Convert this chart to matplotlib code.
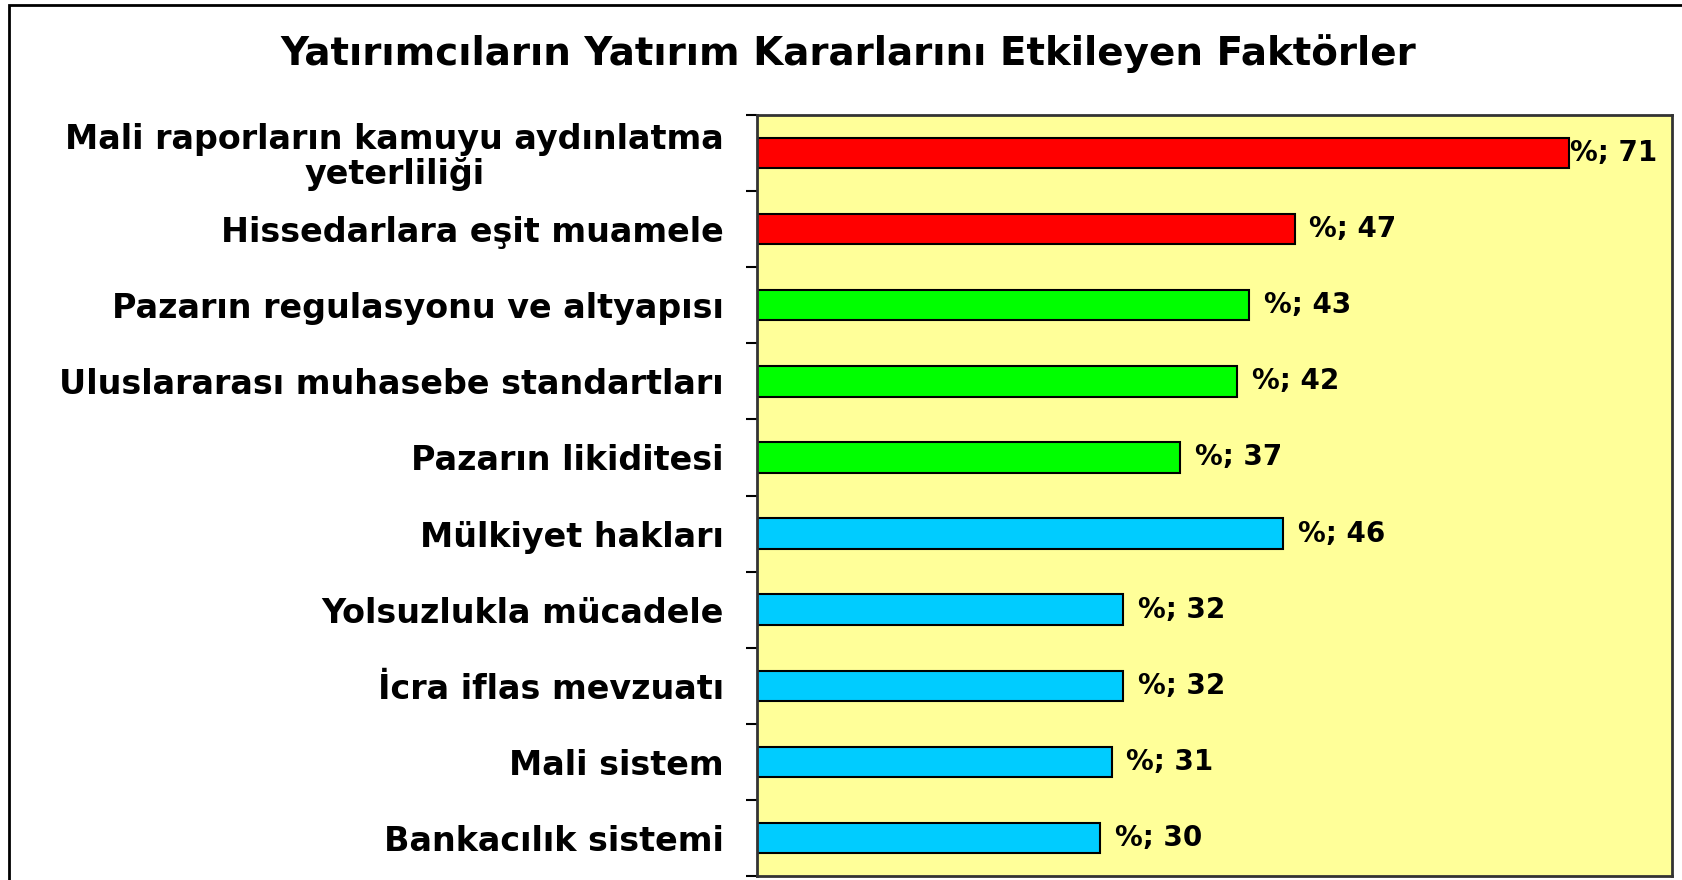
import matplotlib.pyplot as plt
from matplotlib.patches import Rectangle

categories = [
    "Mali raporların kamuyu aydınlatma\nyeterliliği",
    "Hissedarlara eşit muamele",
    "Pazarın regulasyonu ve altyapısı",
    "Uluslararası muhasebe standartları",
    "Pazarın likiditesi",
    "Mülkiyet hakları",
    "Yolsuzlukla mücadele",
    "İcra iflas mevzuatı",
    "Mali sistem",
    "Bankacılık sistemi",
]
values = [71, 47, 43, 42, 37, 46, 32, 32, 31, 30]
colors = ["#FF0000"] * 2 + ["#00FF00"] * 3 + ["#00CCFF"] * 5
xmax = 80

fig = plt.figure(figsize=(16.83, 8.8), dpi=100)
fig.patches.append(Rectangle((9 / 1683, -0.1), 1.2, 0.1 + 875 / 880,
                             transform=fig.transFigure, fill=False,
                             edgecolor="black", linewidth=2))
ax = fig.add_axes([757 / 1683, 4 / 880, 915 / 1683, 761 / 880])
ax.set_facecolor("#FFFF99")

y = list(range(len(categories)))
ax.barh(y, values, height=0.4, color=colors, edgecolor="black", linewidth=1.5)
ax.set_xlim(0, xmax)
ax.set_ylim(len(categories) - 0.5, -0.5)

ax.set_yticks([i - 0.5 for i in range(len(categories) + 1)])
ax.set_yticklabels([])
ax.set_yticks(y, minor=True)
ax.set_yticklabels(categories, minor=True, fontsize=24, fontweight="bold",
                   multialignment="center", linespacing=1.05)
ax.tick_params(axis="y", which="major", length=8, width=1.5, direction="out")
ax.tick_params(axis="y", which="minor", length=0, pad=24)
ax.set_xticks([])
for s in ax.spines.values():
    s.set_linewidth(2)
    s.set_color("#333333")

for yi, v in zip(y, values):
    off = 1.3 if v + 9.5 < xmax else 0.1
    ax.text(v + off, yi, f"%; {v}", va="center", ha="left",
            fontsize=20, fontweight="bold")

fig.text(848 / 1683, 1 - 54 / 880, "Yatırımcıların Yatırım Kararlarını Etkileyen Faktörler",
         ha="center", va="center", fontsize=28, fontweight="bold")

fig.savefig("out.png", dpi=100)
